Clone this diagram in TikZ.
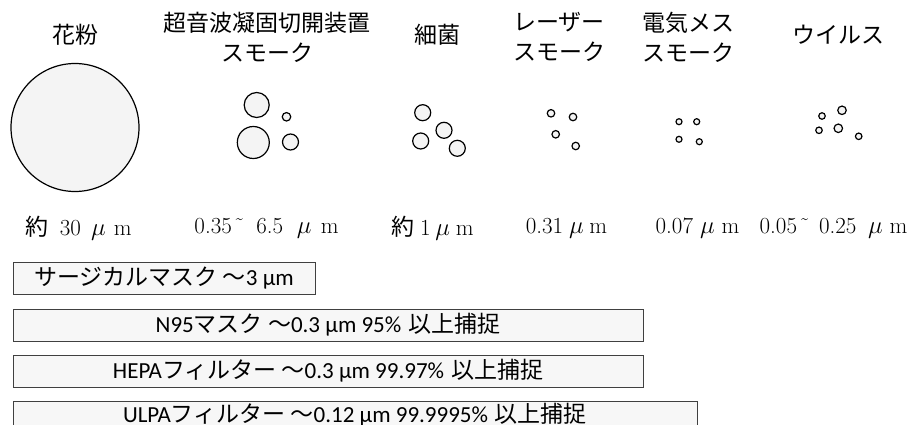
\documentclass[tikz,border=0pt]{standalone}
\usepackage{fontspec}
\newfontfamily\jpfont{Noto Sans CJK JP}
\newfontfamily\calfont{Carlito}
\definecolor{dotfill}{HTML}{F4F4F4}
\definecolor{boxfill}{HTML}{F7F7F7}
\definecolor{boxline}{HTML}{404040}
\tikzset{
  ttl/.style={font=\jpfont\fontsize{23}{30}\selectfont, align=center, inner sep=0pt},
  sz/.style={font=\fontsize{23}{26}\selectfont, inner sep=0pt},
  dot/.style={circle, draw=black, fill=dotfill, line width=1.2pt, inner sep=0pt, outer sep=0pt},
  fbox/.style={draw=boxline, fill=boxfill, line width=0.9pt, inner sep=0pt, outer sep=0pt, anchor=north west, minimum height=32pt, font=\fontsize{23}{26}\selectfont}
}
\newcommand{\J}[1]{{\jpfont #1}}
\newcommand{\C}[1]{{\calfont #1}}
\newcommand{\um}[2]{\hspace{#1em}$\mu$\hspace{#2em}m}
\begin{document}
\begin{tikzpicture}[x=1pt,y=-1pt]
\useasboundingbox (0,0) rectangle (918,425);
\clip (0,0) rectangle (918,425);
% titles
\node[ttl] (t1) at (75,35) {花粉};
\node[ttl] (t2) at (267,37) {超音波凝固切開装置\\スモーク};
\node[ttl] (t3) at (437,35) {細菌};
\node[ttl] (t4) at (559,37) {レーザー\\スモーク};
\node[ttl] (t5) at (688,37) {電気メス\\スモーク};
\node[ttl] (t6) at (838,35) {ウイルス};
% particles
\node[dot, minimum size=128pt] (p1) at (75,127.5) {};
\node[dot, minimum size=25pt] (p2a) at (256.7,105) {};
\node[dot, minimum size=32pt] (p2b) at (253.3,142.5) {};
\node[dot, minimum size=8.5pt] (p2c) at (286.5,116.8) {};
\node[dot, minimum size=16pt] (p2d) at (290.5,142) {};
\node[dot, minimum size=16pt] (p3a) at (422.7,112.7) {};
\node[dot, minimum size=16pt] (p3b) at (444,130.3) {};
\node[dot, minimum size=16pt] (p3c) at (420.7,141) {};
\node[dot, minimum size=16pt] (p3d) at (457.3,148.3) {};
\node[dot, minimum size=7.5pt] (p4a) at (551,113.3) {};
\node[dot, minimum size=7.5pt] (p4b) at (573,117) {};
\node[dot, minimum size=7.5pt] (p4c) at (555.7,134.3) {};
\node[dot, minimum size=7.5pt] (p4d) at (575.7,146) {};
\node[dot, minimum size=6pt] (p5a) at (679,121.7) {};
\node[dot, minimum size=6pt] (p5b) at (696.7,121.7) {};
\node[dot, minimum size=6pt] (p5c) at (679,139.3) {};
\node[dot, minimum size=6pt] (p5d) at (699.3,141.7) {};
\node[dot, minimum size=6.5pt] (p6a) at (822,116) {};
\node[dot, minimum size=8.5pt] (p6b) at (842,110.3) {};
\node[dot, minimum size=6.5pt] (p6c) at (819,130.3) {};
\node[dot, minimum size=8.5pt] (p6d) at (838.3,128.3) {};
\node[dot, minimum size=6.5pt] (p6e) at (858.7,136.3) {};
% sizes
\node[sz] (s1) at (78.5,228) {\J{約}\hspace{0.5em}30\um{0.45}{0.35}};
\node[sz] (s2) at (266.5,228) {0.35\hspace{0.1em}˜\hspace{0.5em}6.5\um{0.6}{0.4}};
\node[sz] (s3) at (432.5,228) {\J{約}\hspace{0.25em}1\um{0.2}{0.25}};
\node[sz] (s4) at (566.5,228) {0.31\um{0.25}{0.25}};
\node[sz] (s5) at (697.5,228) {0.07\um{0.3}{0.3}};
\node[sz] (s6) at (833.5,228) {0.05\hspace{0.1em}˜\hspace{0.4em}0.25\um{0.5}{0.3}};
% filter boxes
\node[fbox, minimum width=302pt] (b1) at (13,262) {\J{サージカルマスク ～}\C{3 µm}};
\node[fbox, minimum width=630pt] (b2) at (13,309) {\C{N95}\J{マスク ～}\C{0.3 µm 95\%} \J{以上捕捉}};
\node[fbox, minimum width=630pt] (b3) at (13,355) {\C{HEPA}\J{フィルター ～}\C{0.3 µm 99.97\%} \J{以上捕捉}};
\node[fbox, minimum width=684pt, minimum height=28pt] (b4) at (13,401) {\raisebox{3pt}{\C{ULPA}\J{フィルター ～}\C{0.12 µm 99.9995\%} \J{以上捕捉}}};
\end{tikzpicture}
\end{document}
